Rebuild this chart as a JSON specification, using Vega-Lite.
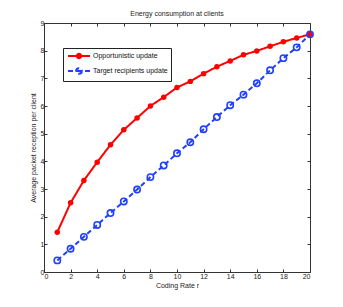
{
  "$schema": "https://vega.github.io/schema/vega-lite/v6.json",
  "width": 266,
  "height": 249,
  "autosize": {"type": "none"},
  "padding": {"left": 44, "top": 23, "right": 33, "bottom": 35},
  "background": "white",
  "title": {"text": "Energy consumption at clients", "fontSize": 7, "fontWeight": "normal", "font": "Liberation Sans", "color": "#222", "offset": 2},
  "config": {
    "font": "Liberation Sans",
    "view": {"stroke": "#333", "strokeWidth": 1},
    "axis": {"grid": false, "domain": false, "tickColor": "#333", "tickSize": -3, "labelFontSize": 7, "labelColor": "#222", "titleFontSize": 7, "titleFontWeight": "normal", "titleColor": "#222", "labelPadding": 3}
  },
  "data": {"values": [
    {"r": 1, "v": 1.44, "s": "Opportunistic update"},
    {"r": 2, "v": 2.5, "s": "Opportunistic update"},
    {"r": 3, "v": 3.31, "s": "Opportunistic update"},
    {"r": 4, "v": 3.97, "s": "Opportunistic update"},
    {"r": 5, "v": 4.6, "s": "Opportunistic update"},
    {"r": 6, "v": 5.14, "s": "Opportunistic update"},
    {"r": 7, "v": 5.57, "s": "Opportunistic update"},
    {"r": 8, "v": 6.0, "s": "Opportunistic update"},
    {"r": 9, "v": 6.32, "s": "Opportunistic update"},
    {"r": 10, "v": 6.67, "s": "Opportunistic update"},
    {"r": 11, "v": 6.89, "s": "Opportunistic update"},
    {"r": 12, "v": 7.17, "s": "Opportunistic update"},
    {"r": 13, "v": 7.42, "s": "Opportunistic update"},
    {"r": 14, "v": 7.63, "s": "Opportunistic update"},
    {"r": 15, "v": 7.85, "s": "Opportunistic update"},
    {"r": 16, "v": 7.99, "s": "Opportunistic update"},
    {"r": 17, "v": 8.16, "s": "Opportunistic update"},
    {"r": 18, "v": 8.32, "s": "Opportunistic update"},
    {"r": 19, "v": 8.46, "s": "Opportunistic update"},
    {"r": 20, "v": 8.59, "s": "Opportunistic update"},
    {"r": 1, "v": 0.42, "s": "Target recipients update"},
    {"r": 2, "v": 0.84, "s": "Target recipients update"},
    {"r": 3, "v": 1.27, "s": "Target recipients update"},
    {"r": 4, "v": 1.7, "s": "Target recipients update"},
    {"r": 5, "v": 2.13, "s": "Target recipients update"},
    {"r": 6, "v": 2.55, "s": "Target recipients update"},
    {"r": 7, "v": 2.98, "s": "Target recipients update"},
    {"r": 8, "v": 3.43, "s": "Target recipients update"},
    {"r": 9, "v": 3.85, "s": "Target recipients update"},
    {"r": 10, "v": 4.29, "s": "Target recipients update"},
    {"r": 11, "v": 4.69, "s": "Target recipients update"},
    {"r": 12, "v": 5.16, "s": "Target recipients update"},
    {"r": 13, "v": 5.6, "s": "Target recipients update"},
    {"r": 14, "v": 6.03, "s": "Target recipients update"},
    {"r": 15, "v": 6.41, "s": "Target recipients update"},
    {"r": 16, "v": 6.82, "s": "Target recipients update"},
    {"r": 17, "v": 7.29, "s": "Target recipients update"},
    {"r": 18, "v": 7.73, "s": "Target recipients update"},
    {"r": 19, "v": 8.12, "s": "Target recipients update"},
    {"r": 20, "v": 8.59, "s": "Target recipients update"}
  ]},
  "resolve": {"axis": {"x": "independent", "y": "independent"}},
  "layer": [
    {
      "mark": {"type": "line", "strokeWidth": 2},
      "encoding": {
        "x": {"field": "r", "type": "quantitative", "scale": {"domain": [0, 20], "nice": false}, "axis": {"title": "Coding Rate r", "values": [0,2,4,6,8,10,12,14,16,18,20], "titlePadding": 2}},
        "y": {"field": "v", "type": "quantitative", "scale": {"domain": [0, 9], "nice": false}, "axis": {"title": "Average packet reception per client", "values": [0,1,2,3,4,5,6,7,8,9], "titlePadding": 4}},
        "color": {"field": "s", "type": "nominal", "scale": {"domain": ["Opportunistic update", "Target recipients update"], "range": ["#ff0000", "#2040ff"]},
          "legend": {"title": null, "orient": "none", "legendX": 19, "legendY": 25, "strokeColor": "#222", "fillColor": "white", "padding": 3, "rowPadding": 1, "labelFontSize": 7, "labelColor": "#111", "symbolSize": 64, "symbolStrokeWidth": 2, "symbolOffset": 8, "labelOffset": 9,
            "symbolType": "M-2.75,0H2.75",
            "encode": {"symbols": {"update": {
              "shape": {"signal": "datum.value === 'Opportunistic update' ? 'M-2.75,0H2.75M0.55,0A0.55,0.55,0,1,1,-0.55,0A0.55,0.55,0,1,1,0.55,0' : 'M-2.75,0H-1.5M-0.7,0H0.7M1.5,0H2.75M0.7,0A0.7,0.7,0,1,1,-0.7,0A0.7,0.7,0,1,1,0.7,0'"},
              "fill": {"signal": "datum.value === 'Opportunistic update' ? '#ff0000' : 'transparent'"},
              "strokeDash": {"value": []}
            }}}
          }},
        "strokeDash": {"field": "s", "type": "nominal", "scale": {"domain": ["Opportunistic update", "Target recipients update"], "range": [[1, 0], [5, 3]]}, "legend": null}
      }
    },
    {
      "transform": [{"filter": "datum.s === 'Opportunistic update'"}],
      "mark": {"type": "point", "filled": true, "size": 30, "color": "#ff0000", "opacity": 1},
      "encoding": {
        "x": {"field": "r", "type": "quantitative", "axis": {"orient": "top", "labels": false, "title": null, "values": [0,2,4,6,8,10,12,14,16,18,20]}},
        "y": {"field": "v", "type": "quantitative", "axis": {"orient": "right", "labels": false, "title": null, "values": [0,1,2,3,4,5,6,7,8,9]}}
      }
    },
    {
      "transform": [{"filter": "datum.s === 'Target recipients update'"}],
      "mark": {"type": "point", "filled": false, "size": 40, "strokeWidth": 1.6, "color": "#2040ff", "opacity": 1},
      "encoding": {
        "x": {"field": "r", "type": "quantitative", "axis": null},
        "y": {"field": "v", "type": "quantitative", "axis": null}
      }
    }
  ]
}
